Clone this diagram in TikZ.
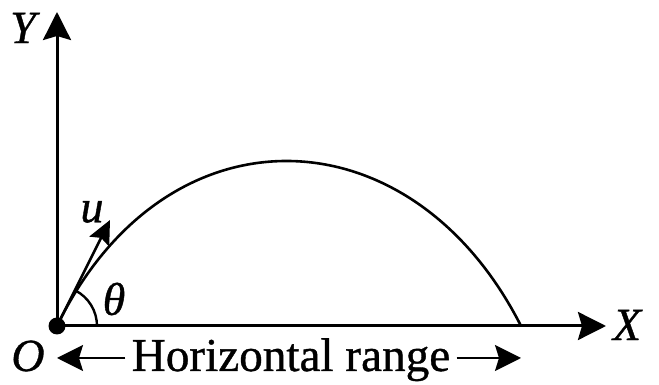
\documentclass[tikz,border=0pt]{standalone}
\usepackage{fontspec}
\setmainfont{Liberation Serif}[FakeBold=0.8]
\usetikzlibrary{arrows.meta}
\tikzset{
  axisline/.style={line width=1.5pt, -{Stealth[length=14pt,width=14pt,inset=2pt]}},
  pathline/.style={line width=1.3pt},
  rangearrow/.style={line width=0.9pt, -{Stealth[length=13pt,width=13pt,inset=2pt]}},
  lbl/.style={font=\fontsize{23}{25}\selectfont\itshape, inner sep=0pt},
}
\begin{document}
\begin{tikzpicture}[x=0.5pt,y=0.5pt]
\useasboundingbox (0,0) rectangle (659,385);
\node[circle, fill, inner sep=0pt, minimum size=8.5pt] (O) at (57,59) {};
\coordinate (ytip) at (57,373);
\coordinate (xtip) at (606,59);
\coordinate (land) at (521,59);
\coordinate (utip) at (110,165);
\draw[axisline] (O.center) -- (ytip);
\draw[axisline] (O.center) -- (xtip);
\draw[pathline] (O.center) .. controls (165,282) and (411,276) .. (land);
\draw[pathline, -{Stealth[length=12pt,width=11pt,inset=2pt]}] (O.center) -- (utip);
\draw[line width=1.2pt] (O.center) ++(20pt,0) arc[start angle=0, end angle=63, radius=20pt];
\node[lbl] (ylab) at (23,357) {Y};
\node[lbl] (xlab) at (627,60) {X};
\node[lbl] (olab) at (28,29) {O};
\node[lbl] (ulab) at (92,173) {u};
\node[lbl] (thlab) at (114,86) {θ};
\node[font=\fontsize{23.6}{25}\selectfont, anchor=base, inner sep=3pt] (range) at (291,14) {Horizontal range};
\coordinate (rl) at (57,27);
\coordinate (rr) at (521,27);
\draw[rangearrow] (rl -| range.west) -- (rl);
\draw[rangearrow] (rr -| range.east) -- (rr);
\end{tikzpicture}
\end{document}
